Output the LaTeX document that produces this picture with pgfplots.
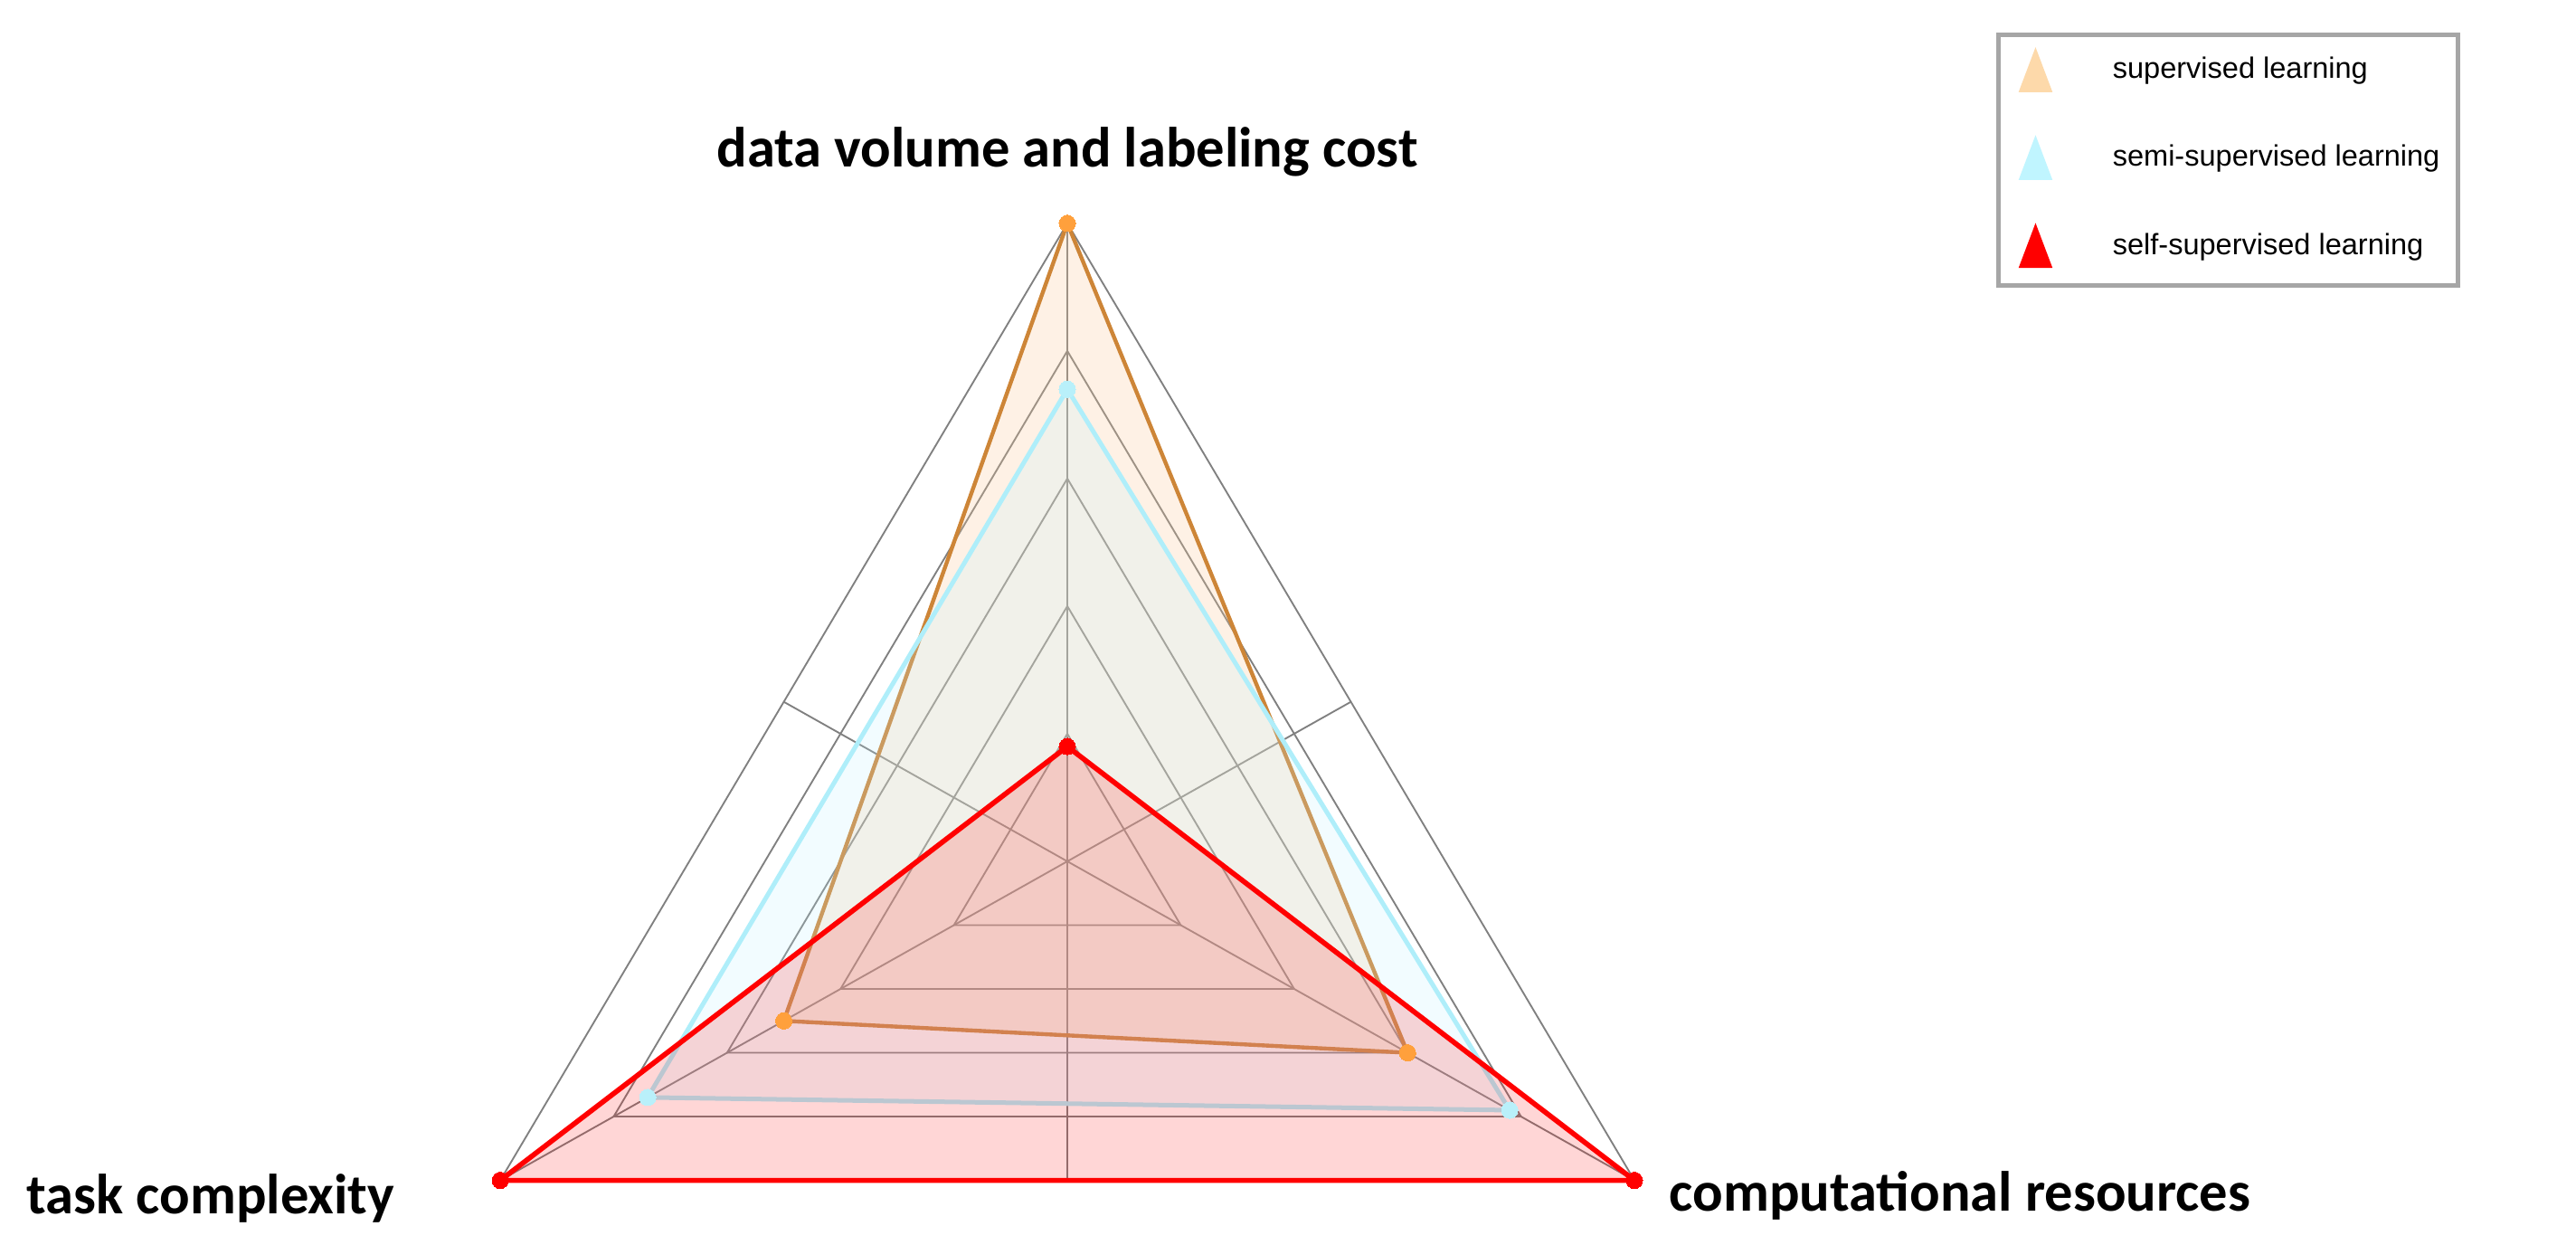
\documentclass[border=0pt]{standalone}
\usepackage{fontspec}
\setmainfont{Liberation Sans}
\newfontfamily\carlito{Carlito}
\usepackage{pgfplots}
\pgfplotsset{compat=1.18}
\usepackage{pgfplotstable}

\definecolor{supline}{RGB}{205,133,55}
\definecolor{supmark}{RGB}{255,160,60}
\definecolor{supfill}{RGB}{250,200,150}
\definecolor{suplegend}{RGB}{253,217,170}
\definecolor{semiline}{RGB}{175,238,250}
\definecolor{semimark}{RGB}{185,240,250}
\definecolor{semifill}{RGB}{190,240,255}
\definecolor{semilegend}{RGB}{192,245,255}
\definecolor{selfred}{RGB}{255,0,0}

\tikzset{lab/.style={font=\carlito\bfseries\fontsize{10}{12}\selectfont, inner sep=0pt}}

% angle of each spoke (deg) and value of each method, 1 = outer triangle
\pgfplotstableread{
angle sup semi self
90  1.00 0.74 0.18
210 0.50 0.74 1.00
330 0.60 0.78 1.00
}\radar

\begin{document}
\begin{tikzpicture}
\begin{axis}[
  width=16cm, height=7.725cm, scale only axis,
  xmin=-1.630, xmax=2.304, ymin=-0.600, ymax=1.350,
  hide axis, clip=false,
  legend style={at={(0.775,0.974)}, anchor=north west, draw=black!35, line width=0.8pt,
    font=\fontsize{5.2}{6.2}\selectfont, inner xsep=0.04cm, inner ysep=0.07cm, row sep=0.22cm,
    cells={anchor=west, inner sep=0pt}},
  legend cell align=left,
  gridline/.style={black!50, line width=0.3pt, data cs=polar, forget plot},
]
\path (rel axis cs:0,0) rectangle (rel axis cs:1,1);

% triangular grid and spokes
\addplot[gridline] coordinates {(90,0.2) (210,0.2) (330,0.2)} -- cycle;
\addplot[gridline] coordinates {(90,0.4) (210,0.4) (330,0.4)} -- cycle;
\addplot[gridline] coordinates {(90,0.6) (210,0.6) (330,0.6)} -- cycle;
\addplot[gridline] coordinates {(90,0.8) (210,0.8) (330,0.8)} -- cycle;
\addplot[gridline] coordinates {(90,1.0) (210,1.0) (330,1.0)} -- cycle;
\addplot[gridline] coordinates {(90,1) (270,0.5)};
\addplot[gridline] coordinates {(210,1) (30,0.5)};
\addplot[gridline] coordinates {(330,1) (150,0.5)};

% series
\addplot[data cs=polar, forget plot, draw=supline, line width=0.7pt, fill=supfill, fill opacity=0.25,
  mark=*, mark size=1.45pt, mark options={draw=supmark, fill=supmark, fill opacity=1, line width=0pt}]
  table[x=angle, y=sup] {\radar} -- cycle;
\addplot[data cs=polar, forget plot, draw=semiline, line width=0.8pt, fill=semifill, fill opacity=0.2,
  mark=*, mark size=1.45pt, mark options={draw=semimark, fill=semimark, fill opacity=1, line width=0pt}]
  table[x=angle, y=semi] {\radar} -- cycle;
\addplot[data cs=polar, forget plot, draw=selfred, line width=0.9pt, fill=selfred, fill opacity=0.16,
  mark=*, mark size=1.45pt, mark options={draw=selfred, fill=selfred, fill opacity=1, line width=0pt}]
  table[x=angle, y=self] {\radar} -- cycle;

% legend entries
\addlegendimage{legend image code/.code={\fill[suplegend] (0.09cm,-0.11cm) -- (0.26cm,-0.11cm) -- (0.175cm,0.115cm) -- cycle; \path (0,0) (0.57cm,0);}}
\addlegendentry{supervised learning}
\addlegendimage{legend image code/.code={\fill[semilegend] (0.09cm,-0.11cm) -- (0.26cm,-0.11cm) -- (0.175cm,0.115cm) -- cycle; \path (0,0) (0.57cm,0);}}
\addlegendentry{semi-supervised learning}
\addlegendimage{legend image code/.code={\fill[selfred] (0.09cm,-0.11cm) -- (0.26cm,-0.11cm) -- (0.175cm,0.115cm) -- cycle; \path (0,0) (0.57cm,0);}}
\addlegendentry{self-supervised learning}

\node[lab, anchor=base] at (axis cs:0,1.088) {data volume and labeling cost};
\node[lab, anchor=base west] at (axis cs:-1.591,-0.552) {task complexity};
\node[lab, anchor=base west] at (axis cs:0.918,-0.548) {computational resources};
\end{axis}
\end{tikzpicture}
\end{document}
